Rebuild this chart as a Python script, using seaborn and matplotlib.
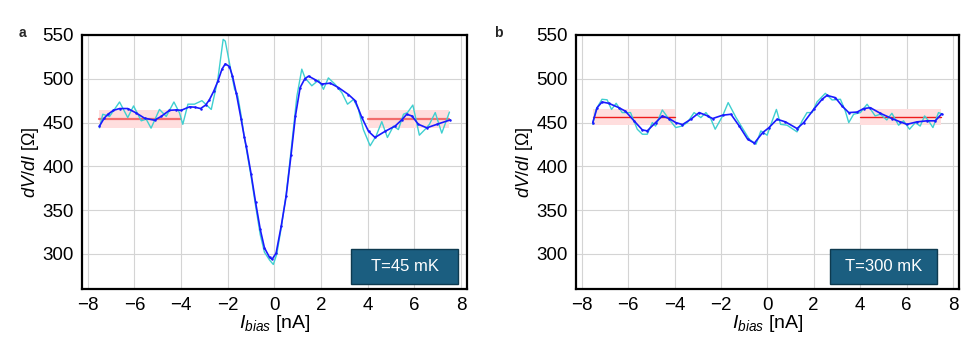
import numpy as np
import pandas as pd
import matplotlib
matplotlib.use("Agg")
import matplotlib.pyplot as plt
import seaborn as sns
from matplotlib.patches import Rectangle

# ---------------- data ----------------
a_smooth_x = [-7.5, -7.3, -7.14, -6.9, -6.64, -6.29, -5.93, -5.57, -5.14, -4.86, -4.5, -4.2, -4.0,
              -3.64, -3.4, -3.17, -2.95, -2.79, -2.6, -2.43, -2.25, -2.11, -1.93, -1.8, -1.64,
              -1.43, -1.29, -1.21, -1.0, -0.81, -0.61, -0.43, -0.21, -0.1, 0.07, 0.29, 0.5,
              0.71, 0.9, 1.1, 1.3, 1.46, 1.74, 2.03, 2.39, 2.74, 3.17, 3.46, 3.74, 4.03, 4.31,
              4.74, 5.17, 5.45, 5.67, 5.89, 6.17, 6.53, 6.96, 7.53]
a_smooth_y = [446, 455, 459.5, 464, 466, 466, 461, 455, 452.7, 457, 464, 464.5, 464,
              468, 467.5, 466, 470, 476, 486, 497, 511, 517, 514, 503, 484,
              454, 433, 423, 391, 359, 328, 307, 296, 294, 301, 332, 366,
              413, 458, 490, 500, 503, 499, 494, 495, 490, 482, 475, 456, 440, 433,
              440, 446, 453, 459.5, 457.5, 448, 444, 448, 453]

a_raw_x = [-7.5, -7.36, -7.07, -6.64, -6.29, -6.04, -5.71, -5.5, -5.29, -4.93, -4.64, -4.31,
           -4.07, -3.93, -3.71, -3.43, -3.11, -2.71, -2.43, -2.2, -2.11, -1.93, -1.71, -1.57,
           -1.43, -1.29, -1.0, -0.81, -0.61, -0.43, -0.21, -0.05, 0.1, 0.29, 0.5, 0.67,
           0.96, 1.17, 1.31, 1.6, 1.89, 2.1, 2.31, 2.6, 2.89, 3.13, 3.39, 3.6, 3.81, 4.1,
           4.36, 4.6, 4.84, 5.1, 5.31, 5.53, 5.7, 5.93, 6.21, 6.46, 6.64, 6.89, 7.17, 7.39, 7.5]
a_raw_y = [444, 459.5, 457, 473.5, 455.7, 469, 452, 454, 443.6, 465, 457, 473.5,
           461, 448, 471, 471, 475, 465, 499, 545, 543, 518, 488, 480,
           458, 433, 388, 355, 322, 302, 293, 288, 300, 330, 368, 408,
           480, 511, 501, 492, 498.5, 488, 501, 493.6, 484, 471, 476.5, 465, 442, 423.5,
           435, 451, 433, 446, 442, 459.5, 461.4, 470, 435.6, 442.4, 448, 461.4, 438, 454, 462]

b_smooth_x = [-7.53, -7.34, -7.13, -6.84, -6.4, -6.12, -5.75, -5.39, -5.18, -4.82, -4.53, -4.24,
              -3.95, -3.66, -3.3, -2.94, -2.58, -2.36, -1.93, -1.57, -1.21, -0.85, -0.56, -0.2,
              0.06, 0.42, 0.78, 1.28, 1.57, 2.0, 2.36, 2.57, 2.93, 3.22, 3.51, 3.87, 4.15,
              4.44, 4.87, 5.37, 5.73, 6.02, 6.45, 6.88, 7.24, 7.52]
b_smooth_y = [450, 467, 473.5, 472, 467, 463, 452, 441.6, 440.5, 450, 457.6, 454.6,
              450, 447.7, 453.8, 461.4, 457.6, 454.6, 458.4, 459.5, 446, 431, 426.5, 438.6,
              444, 453.8, 450.8, 443.2, 450, 465.2, 476.6, 481, 478.5, 469, 461.4, 462, 466,
              467, 460.6, 454.6, 450.8, 448, 450.8, 452, 452, 460]

b_raw_x = [-7.53, -7.39, -7.13, -6.91, -6.72, -6.52, -6.26, -5.9, -5.61, -5.39, -5.18, -4.96,
           -4.82, -4.53, -4.24, -3.95, -3.69, -3.45, -3.16, -2.87, -2.65, -2.43, -2.25, -1.93,
           -1.69, -1.35, -1.06, -0.78, -0.49, -0.28, -0.01, 0.21, 0.39, 0.57, 0.85, 1.28,
           1.5, 1.71, 1.93, 2.14, 2.5, 2.79, 3.15, 3.36, 3.51, 3.72, 4.01, 4.3, 4.65, 4.87,
           5.15, 5.37, 5.66, 5.87, 6.13, 6.38, 6.59, 6.78, 6.95, 7.14, 7.38, 7.52]
b_raw_y = [448, 465, 476.6, 476, 465, 472, 461.4, 461.4, 442.4, 436.7, 436.7, 450,
           446, 464.4, 453.8, 444.3, 446, 450, 461.4, 455.7, 461.4, 453.8, 442.4, 457.6,
           472.8, 455.7, 443, 431, 425.3, 440.5, 435.6, 452, 465, 448, 447, 439.4,
           452, 461.4, 461.4, 473.5, 483.4, 475.8, 476.6, 463.3, 450, 459.5, 461.4, 470.9, 457.6, 459.5,
           453, 460.6, 447, 452, 442.4, 450, 446, 457.6, 452, 444.3, 461.4, 460]

# reference (normal-state) levels: mean and half-width of band
a_ref_mean, a_ref_half = 454, 10
b_ref_mean, b_ref_half = 456.5, 9
ref_ranges = [(-7.5, -4.0), (4.0, 7.5)]

panel_letters = ["a", "b"]
temps = ["T=45 mK", "T=300 mK"]

# ---------------- style ----------------
sns.set_theme(style="whitegrid")
plt.rcParams['font.family'] = ['Liberation Sans', 'DejaVu Sans']
plt.rcParams['mathtext.fontset'] = 'custom'
plt.rcParams['mathtext.rm'] = 'Liberation Sans'
plt.rcParams['mathtext.it'] = 'Liberation Sans:italic'
plt.rcParams['mathtext.bf'] = 'Liberation Sans:bold'

fig = plt.figure(figsize=(9.67, 3.44), dpi=100)
ax_a = fig.add_axes([0.0848, 0.1599, 0.4829 - 0.0848, 0.8983 - 0.1599])
ax_b = fig.add_axes([0.5957, 0.1599, 0.9914 - 0.5957, 0.8983 - 0.1599])

panels = [
    (ax_a, a_smooth_x, a_smooth_y, a_raw_x, a_raw_y, a_ref_mean, a_ref_half, '#f26d6d', 1.6, 0.698),
    (ax_b, b_smooth_x, b_smooth_y, b_raw_x, b_raw_y, b_ref_mean, b_ref_half, '#ee1c1c', 1.0, 0.664),
]

for i, (ax, sx, sy, rx, ry, rm, rh, rc, rlw, bx0) in enumerate(panels):
    for (x0, x1) in ref_ranges:
        ax.fill_between([x0, x1], [rm - rh] * 2, [rm + rh] * 2, color='#ffdede', lw=0, zorder=1)
        ax.plot([x0, x1], [rm, rm], color=rc, lw=rlw, zorder=2)
    sns.lineplot(x=rx, y=ry, ax=ax, color='#3fcfd0', lw=1.0, estimator=None, zorder=3)
    sns.lineplot(x=sx, y=sy, ax=ax, color='#1a1aff', lw=1.2, marker='o', markersize=1.8,
                 markeredgewidth=0, estimator=None, zorder=4)

    ax.set_xlim(-8.25, 8.25)
    ax.set_ylim(260, 550)
    ax.set_xticks([-8, -6, -4, -2, 0, 2, 4, 6, 8])
    ax.set_yticks([300, 350, 400, 450, 500, 550])
    ax.set_xticklabels(['\u22128', '\u22126', '\u22124', '\u22122', '0', '2', '4', '6', '8'])
    ax.grid(True, color='#d4d4d4', lw=0.8)
    for sp in ax.spines.values():
        sp.set_color('black')
        sp.set_linewidth(1.6)
    ax.tick_params(axis='both', which='major', direction='out', length=5, width=1.6,
                   color='black', labelsize=13.5, labelcolor='black', pad=1)
    ax.set_xlabel(r'$I_{bias}$ [nA]', fontsize=14, color='black', labelpad=-1)
    ax.set_ylabel(r'$dV/dI$ [$\Omega$]', fontsize=13, color='black', labelpad=1)

    # temperature box (fixed size in axes coordinates)
    bw, by0, bh = 0.28, 0.02, 0.136
    ax.add_patch(Rectangle((bx0, by0), bw, bh, transform=ax.transAxes,
                           fc='#1b5e80', ec='#0e3a4f', lw=1.0, zorder=6))
    ax.text(bx0 + bw / 2, by0 + bh / 2, temps[i], transform=ax.transAxes,
            ha='center', va='center', fontsize=12, color='white', zorder=7)

fig.text(0.019, 0.905, 'a', fontsize=10, fontweight='bold', ha='left', va='center')
fig.text(0.511, 0.905, 'b', fontsize=10, fontweight='bold', ha='left', va='center')

fig.savefig('out.png', dpi=100)
